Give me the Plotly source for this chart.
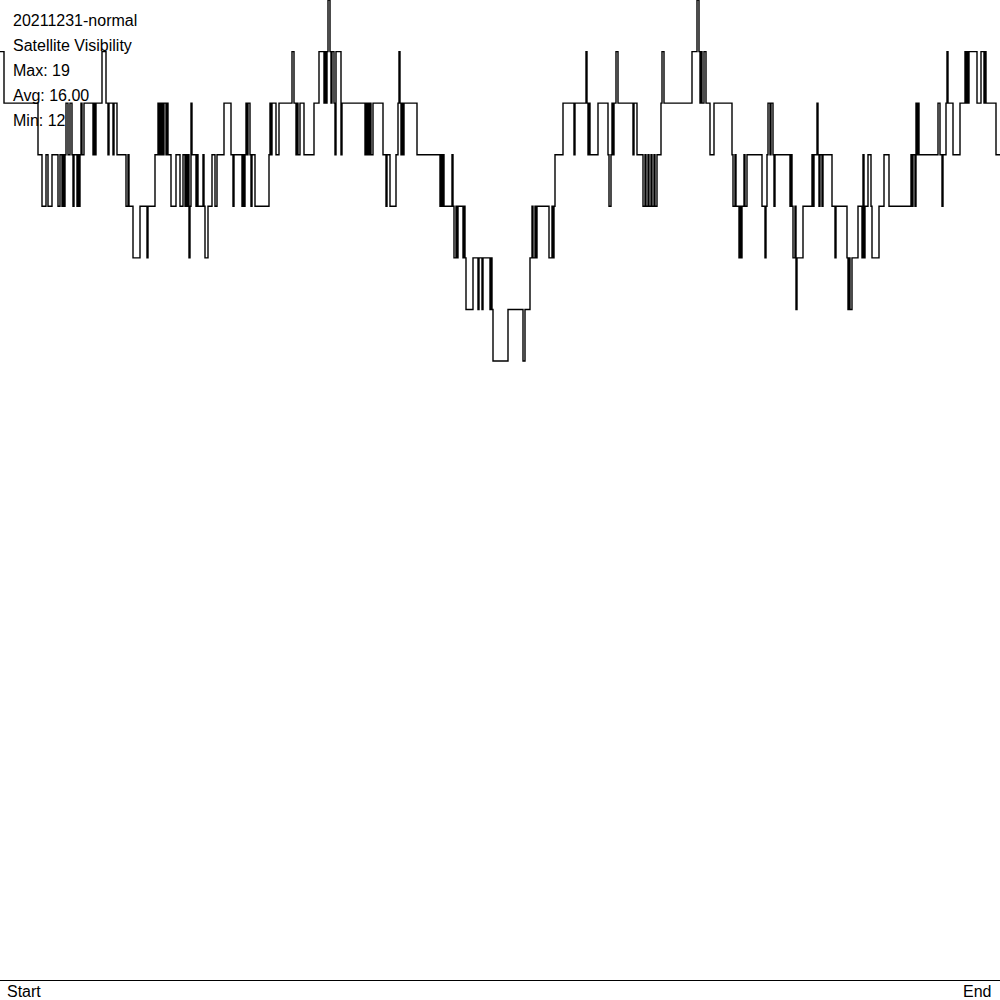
import plotly.graph_objects as go

# step transitions: position along the day (0..1000) and visible satellite count
t = [0, 4, 38, 42, 46, 48, 52, 58, 60, 62, 63, 64, 65, 66, 68, 70, 72, 73, 74, 77, 78, 79, 80, 81, 82, 84,
     93, 94, 95, 96, 102, 106, 108, 109, 113, 114, 117, 126, 128, 129, 133, 140, 147, 148, 155, 158, 159,
     160, 161, 162, 163, 164, 166, 167, 168, 171, 176, 180, 183, 185, 186, 187, 188, 189, 190, 191, 192,
     196, 197, 198, 203, 204, 205, 208, 212, 215, 217, 224, 231, 233, 234, 242, 243, 244, 245, 246, 247,
     248, 250, 251, 252, 255, 269, 270, 271, 272, 276, 279, 292, 294, 296, 297, 298, 300, 304, 314, 319,
     324, 325, 326, 327, 328, 330, 331, 332, 334, 335, 336, 341, 342, 365, 366, 367, 368, 369, 370, 371,
     373, 383, 386, 387, 390, 396, 398, 399, 400, 401, 402, 403, 404, 417, 440, 441, 442, 443, 444, 452,
     453, 454, 456, 457, 458, 463, 464, 465, 466, 473, 478, 479, 482, 483, 490, 491, 492, 493, 508, 523,
     525, 530, 532, 533, 535, 536, 537, 549, 552, 553, 554, 555, 563, 574, 575, 586, 587, 588, 589, 590,
     598, 608, 609, 611, 612, 613, 614, 616, 618, 633, 634, 637, 643, 645, 646, 648, 649, 651, 652, 654,
     655, 657, 661, 662, 664, 692, 697, 699, 700, 701, 702, 704, 706, 710, 714, 732, 733, 735, 736, 739,
     740, 741, 742, 744, 745, 747, 762, 765, 766, 767, 768, 770, 771, 773, 774, 775, 790, 791, 792, 793,
     795, 796, 797, 803, 812, 813, 814, 817, 818, 819, 820, 822, 823, 832, 835, 836, 847, 848, 849, 850,
     852, 858, 862, 863, 864, 865, 868, 871, 872, 879, 884, 889, 911, 912, 913, 915, 916, 917, 918, 919,
     938, 940, 942, 943, 946, 947, 948, 953, 960, 965, 966, 967, 968, 969, 977, 981, 984, 985, 986, 996,
     1000]
sats = [18, 17, 16, 15, 16, 15, 16, 15, 16, 15, 16, 15, 16, 17, 16, 17, 16, 15, 16, 15, 16, 15, 16, 17, 16, 17,
        16, 17, 16, 17, 18, 17, 16, 17, 16, 17, 16, 15, 16, 15, 14, 15, 14, 15, 16, 17, 16,
        17, 16, 17, 16, 17, 16, 17, 16, 15, 16, 15, 16, 15, 16, 15, 16, 14, 15, 17, 16,
        15, 16, 15, 16, 15, 14, 15, 16, 15, 16, 17, 16, 15, 16, 15, 16, 15, 16, 17, 16,
        17, 16, 15, 16, 15, 16, 17, 16, 17, 16, 17, 18, 17, 16, 17, 16, 17, 16, 17, 18,
        17, 18, 17, 18, 19, 18, 17, 18, 17, 16, 18, 16, 17, 16, 17, 16, 17, 16, 17, 16,
        17, 16, 15, 16, 15, 16, 17, 18, 17, 16, 17, 16, 17, 16, 15, 16, 15, 16, 15, 16,
        15, 14, 15, 14, 15, 14, 15, 14, 13, 14, 13, 14, 13, 14, 13, 14, 13, 12, 13, 12,
        13, 14, 15, 14, 15, 14, 15, 14, 15, 14, 15, 16, 17, 16, 17, 18, 17, 16, 17, 16,
        17, 16, 15, 16, 17, 16, 17, 18, 17, 16, 17, 16, 15, 16, 15, 16, 15, 16, 15, 16,
        15, 16, 17, 18, 17, 18, 19, 18, 17, 18, 17, 18, 17, 16, 17, 16, 15, 16, 15, 14,
        15, 14, 15, 16, 15, 16, 15, 14, 15, 16, 17, 16, 17, 16, 15, 16, 15, 16, 15, 14,
        15, 13, 14, 15, 16, 15, 16, 17, 16, 15, 16, 15, 16, 15, 14, 15, 14, 13, 14, 13,
        14, 15, 14, 16, 14, 15, 16, 15, 14, 15, 16, 15, 16, 15, 16, 15, 17, 16, 17, 16,
        17, 16, 15, 16, 17, 18, 17, 16, 17, 18, 17, 18, 17, 18, 17, 18, 17, 18, 17, 16,
        16]

info_lines = ["20211231-normal", "Satellite Visibility", "Max: 19", "Avg: 16.00", "Min: 12"]
x_labels = ["Start", "End"]

FONT = "Arial, Liberation Sans, sans-serif"

fig = go.Figure()
fig.add_trace(go.Scatter(x=t, y=sats, mode="lines", line_shape="hv",
                         line=dict(color="black", width=1.4), hoverinfo="skip"))

annotations = []
for i, txt in enumerate(info_lines):
    annotations.append(dict(text=txt, xref="paper", yref="paper", x=0, y=1,
                            xanchor="left", yanchor="middle", xshift=11, yshift=-20 - 25 * i,
                            showarrow=False, font=dict(family=FONT, size=16, color="black")))
annotations.append(dict(text=x_labels[0], xref="paper", yref="paper", x=0, y=0,
                        xanchor="left", yanchor="middle", xshift=5, yshift=-11,
                        showarrow=False, font=dict(family=FONT, size=16, color="black")))
annotations.append(dict(text=x_labels[1], xref="paper", yref="paper", x=1, y=0,
                        xanchor="right", yanchor="middle", xshift=-7, yshift=-11,
                        showarrow=False, font=dict(family=FONT, size=16, color="black")))

fig.update_layout(
    width=1000, height=1000,
    margin=dict(l=0, r=0, t=0, b=20),
    paper_bgcolor="white", plot_bgcolor="white",
    showlegend=False,
    annotations=annotations,
    xaxis=dict(range=[0, 1000], showgrid=False, zeroline=False, showticklabels=False,
               ticks="", showline=True, linecolor="black", linewidth=1),
    yaxis=dict(range=[0, 19], showgrid=False, zeroline=False, showticklabels=False,
               ticks="", showline=False),
)

fig.write_html("out.html", config={"displayModeBar": False},
               post_script="document.body.style.margin='0';document.body.style.overflow='hidden';")
